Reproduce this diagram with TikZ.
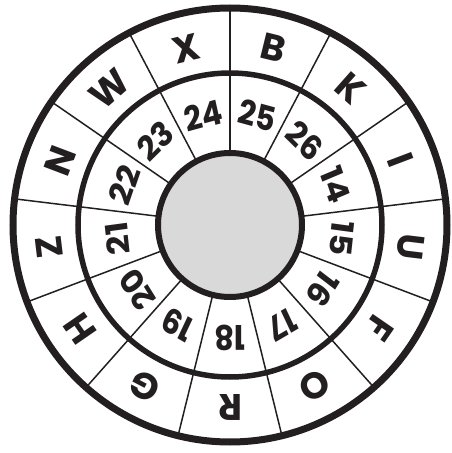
\documentclass[tikz,border=0pt]{standalone}
\usepackage{fontspec}
\setmainfont{Poppins}
\definecolor{WheelInk}{HTML}{231F20}
\definecolor{WheelHub}{HTML}{D9D9D9}

\begin{document}
\begin{tikzpicture}[
    x=1pt, y=1pt,
    rim/.style={draw=WheelInk, line width=7pt},
    ring/.style={draw=WheelInk, line width=5.5pt},
    hub/.style={draw=WheelInk, line width=6pt, fill=WheelHub},
    spoke/.style={draw=WheelInk, line width=1.5pt},
    letter/.style={
        font=\bfseries\fontsize{37}{37}\selectfont,
        text=WheelInk,
        inner sep=0pt
    },
    number/.style={
        font=\bfseries\fontsize{34}{34}\selectfont,
        text=WheelInk,
        inner sep=0pt,
        xscale=0.9
    }
]
    \useasboundingbox (-230,-228) rectangle (221,225);

    % spokes
    \foreach \k in {0,...,12}
        \draw[spoke] (90-\k*360/13:72) -- (90-\k*360/13:217);

    % rings
    \draw[rim] (0,0) circle (217);
    \draw[ring] (0,0) circle (152);
    \draw[hub] (0,0) circle (72);

    % outer letters
    \foreach \l [count=\k from 0] in {B,K,I,U,F,O,R,G,H,Z,N,W,X} {
        \pgfmathsetmacro{\a}{90-(\k+0.5)*360/13}
        \node[letter, rotate=\a-90] (letter-\k) at (\a:182) {\l};
    }

    % inner numbers
    \foreach \n [count=\k from 0] in {25,26,14,15,16,17,18,19,20,21,22,23,24} {
        \pgfmathsetmacro{\a}{90-(\k+0.5)*360/13}
        \node[number, rotate=\a-90] (number-\k) at (\a:113) {\n};
    }
\end{tikzpicture}
\end{document}
